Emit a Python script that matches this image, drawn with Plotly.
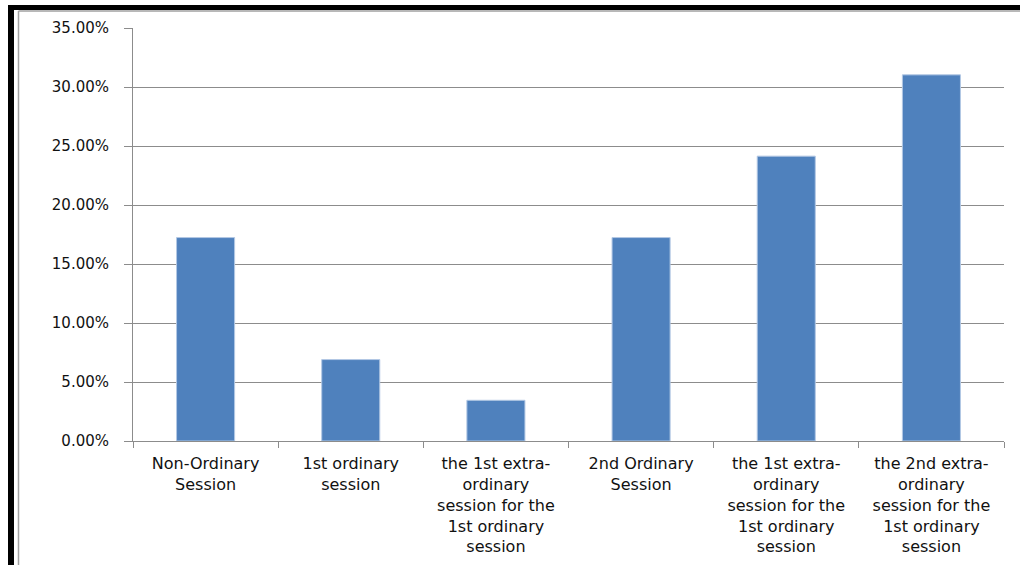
import plotly.graph_objects as go

categories = [
    "Non-Ordinary<br>Session",
    "1st ordinary<br>session",
    "the 1st extra-<br>ordinary<br>session for the<br>1st ordinary<br>session",
    "2nd Ordinary<br>Session",
    "the 1st extra-<br>ordinary<br>session for the<br>1st ordinary<br>session",
    "the 2nd extra-<br>ordinary<br>session for the<br>1st ordinary<br>session",
]
values = [0.1724, 0.0690, 0.0345, 0.1724, 0.2414, 0.3103]
y_ticks = [0, 0.05, 0.10, 0.15, 0.20, 0.25, 0.30, 0.35]

positions = list(range(len(categories)))
boundaries = [p - 0.5 for p in positions] + [positions[-1] + 0.5]

W, H = 1020, 565
L, R, T, B = 133, 1004, 28, 441

fig = go.Figure()
fig.add_trace(go.Bar(
    x=positions, y=values, width=0.4,
    marker=dict(color="#4F81BD", line=dict(color="#B3C8E4", width=1)),
    hoverinfo="skip",
))
# invisible trace on second x axis for boundary tick marks
fig.add_trace(go.Scatter(x=[boundaries[0], boundaries[-1]], y=[0, 0], xaxis="x2",
                         mode="lines", line=dict(width=0), hoverinfo="skip", showlegend=False))

grey = "#8C8C8C"
font_family = "DejaVu Sans, Verdana, sans-serif"
fig.update_layout(
    width=W, height=H,
    margin=dict(l=L, r=W - R, t=T, b=H - B, pad=0, autoexpand=False),
    paper_bgcolor="white", plot_bgcolor="white",
    showlegend=False, bargap=0.6,
    font=dict(family=font_family, color="#111111"),
    xaxis=dict(
        range=[boundaries[0], boundaries[-1]], automargin=False,
        tickmode="array", tickvals=positions, ticktext=categories,
        ticks="", showgrid=False, zeroline=False,
        showline=True, linecolor=grey, linewidth=1,
        tickfont=dict(size=16), tickangle=0, ticklabelstandoff=8,
    ),
    xaxis2=dict(
        range=[boundaries[0], boundaries[-1]], overlaying="x", side="bottom",
        automargin=False,
        tickmode="array", tickvals=boundaries, ticks="outside", ticklen=6,
        tickcolor=grey, showticklabels=False, showgrid=False, zeroline=False,
        showline=False,
    ),
    yaxis=dict(
        range=[0, 0.35], tickmode="array", tickvals=y_ticks, tickformat=".2%",
        automargin=False,
        ticks="outside", ticklen=8, tickcolor=grey,
        showgrid=True, gridcolor=grey, gridwidth=1,
        zeroline=False, showline=True, linecolor=grey, linewidth=1,
        tickfont=dict(size=15), ticklabelstandoff=12,
    ),
)

def px_x(p):
    return (p - L) / (R - L)

def px_y(p):
    return (B - p) / (B - T)

# black outer frame (top and left) and inner grey chart border
fig.add_shape(type="rect", xref="paper", yref="paper",
              x0=px_x(8), x1=px_x(W + 5), y0=px_y(10), y1=px_y(5),
              fillcolor="black", line=dict(width=0), layer="above")
fig.add_shape(type="rect", xref="paper", yref="paper",
              x0=px_x(8), x1=px_x(14), y0=px_y(H + 5), y1=px_y(5),
              fillcolor="black", line=dict(width=0), layer="above")
fig.add_shape(type="line", xref="paper", yref="paper",
              x0=px_x(18.5), x1=px_x(W + 5), y0=px_y(11), y1=px_y(11),
              line=dict(color="#A0A0A0", width=1.5), layer="above")
fig.add_shape(type="line", xref="paper", yref="paper",
              x0=px_x(18.5), x1=px_x(18.5), y0=px_y(11), y1=px_y(H + 5),
              line=dict(color="#A0A0A0", width=1.5), layer="above")

fig.write_html("out.html")
